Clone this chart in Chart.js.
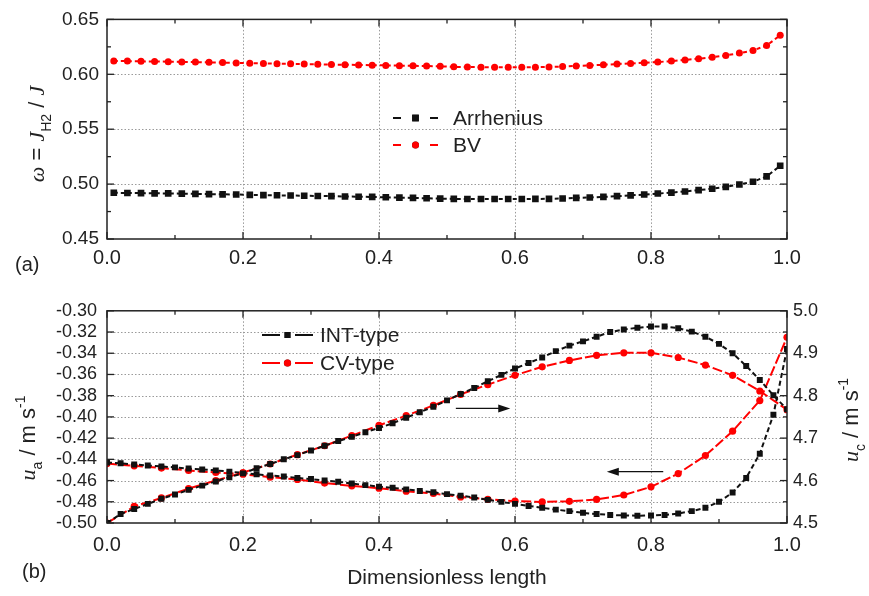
<!DOCTYPE html>
<html>
<head>
<meta charset="utf-8">
<script src="https://cdn.jsdelivr.net/npm/chart.js@4.4.1/dist/chart.umd.min.js"></script>
<style>
  body { margin: 0; background: #fff; width: 869px; height: 596px; position: relative; overflow: hidden;
         font-family: "Liberation Sans", Arial, sans-serif; }
  #top { position: absolute; left: 0; top: 0; width: 869px; height: 290px; }
  #bot { position: absolute; left: 0; top: 290px; width: 869px; height: 306px; }
  .tag { position: absolute; font-size: 20px; color: #222; }
</style>
</head>
<body>
<div id="top"><canvas id="chartA"></canvas></div>
<div id="bot"><canvas id="chartB"></canvas></div>
<div class="tag" style="left:15px;top:253px">(a)</div>
<div class="tag" style="left:22px;top:560px">(b)</div>
<script>
// panel (a): omega vs dimensionless length
const xTop = [0.01, 0.03, 0.05, 0.07, 0.09, 0.11, 0.13, 0.15, 0.17, 0.19,
  0.21, 0.23, 0.25, 0.27, 0.29, 0.31, 0.33, 0.35, 0.37, 0.39,
  0.41, 0.43, 0.45, 0.47, 0.49, 0.51, 0.53, 0.55, 0.57, 0.59,
  0.61, 0.63, 0.65, 0.67, 0.69, 0.71, 0.73, 0.75, 0.77, 0.79,
  0.81, 0.83, 0.85, 0.87, 0.89, 0.91, 0.93, 0.95, 0.97, 0.99];
const arrhenius = [0.4921, 0.4919, 0.4918, 0.4916, 0.4915, 0.4913, 0.4911, 0.4909, 0.4907, 0.4905,
  0.4902, 0.4900, 0.4898, 0.4896, 0.4894, 0.4892, 0.4890, 0.4887, 0.4885, 0.4883,
  0.4880, 0.4877, 0.4874, 0.4871, 0.4868, 0.4865, 0.4864, 0.4864, 0.4864, 0.4864,
  0.4864, 0.4865, 0.4866, 0.4869, 0.4874, 0.4878, 0.4884, 0.4890, 0.4897, 0.4905,
  0.4914, 0.4923, 0.4933, 0.4945, 0.4958, 0.4975, 0.4996, 0.5021, 0.5070, 0.5167];
const bv = [0.6121, 0.6120, 0.6118, 0.6117, 0.6115, 0.6113, 0.6111, 0.6109, 0.6107, 0.6104,
  0.6101, 0.6099, 0.6097, 0.6095, 0.6093, 0.6091, 0.6089, 0.6087, 0.6085, 0.6083,
  0.6081, 0.6079, 0.6077, 0.6075, 0.6073, 0.6068, 0.6066, 0.6065, 0.6064, 0.6064,
  0.6064, 0.6065, 0.6067, 0.6071, 0.6076, 0.6081, 0.6087, 0.6093, 0.6099, 0.6105,
  0.6112, 0.6120, 0.6131, 0.6142, 0.6155, 0.6172, 0.6193, 0.6217, 0.6262, 0.6355];

// panel (b): velocities, INT-type every 0.02, CV-type every 0.04
const xInt = [0, 0.02, 0.04, 0.06, 0.08, 0.10, 0.12, 0.14, 0.16, 0.18,
  0.20, 0.22, 0.24, 0.26, 0.28, 0.30, 0.32, 0.34, 0.36, 0.38,
  0.40, 0.42, 0.44, 0.46, 0.48, 0.50, 0.52, 0.54, 0.56, 0.58,
  0.60, 0.62, 0.64, 0.66, 0.68, 0.70, 0.72, 0.74, 0.76, 0.78,
  0.80, 0.82, 0.84, 0.86, 0.88, 0.90, 0.92, 0.94, 0.96, 0.98, 1.0];
const intUa = [-0.4431, -0.4437, -0.4449, -0.4458, -0.4467, -0.4476, -0.4487, -0.4495, -0.4504, -0.4516,
  -0.4528, -0.4541, -0.4552, -0.4562, -0.4576, -0.4586, -0.4600, -0.4611, -0.4628, -0.4643,
  -0.4657, -0.4668, -0.4683, -0.4698, -0.4711, -0.4728, -0.4742, -0.4760, -0.4782, -0.4801,
  -0.4820, -0.4839, -0.4857, -0.4874, -0.4888, -0.4904, -0.4916, -0.4924, -0.4929, -0.4931,
  -0.4930, -0.4924, -0.4911, -0.4888, -0.4857, -0.4800, -0.4713, -0.4575, -0.4347, -0.3980, -0.3360];
const intUc = [4.500, 4.521, 4.533, 4.545, 4.557, 4.567, 4.578, 4.588, 4.598, 4.608,
  4.617, 4.629, 4.639, 4.650, 4.660, 4.671, 4.682, 4.693, 4.703, 4.714,
  4.724, 4.735, 4.748, 4.761, 4.774, 4.789, 4.804, 4.818, 4.834, 4.849,
  4.864, 4.877, 4.890, 4.905, 4.918, 4.928, 4.939, 4.950, 4.956, 4.960,
  4.963, 4.963, 4.959, 4.951, 4.939, 4.922, 4.900, 4.870, 4.837, 4.801, 4.768];
const xCv = [0, 0.04, 0.08, 0.12, 0.16, 0.20, 0.24, 0.28, 0.32, 0.36, 0.40, 0.44, 0.48,
  0.52, 0.56, 0.60, 0.64, 0.68, 0.72, 0.76, 0.80, 0.84, 0.88, 0.92, 0.96, 1.0];
const cvUa = [-0.4440, -0.4461, -0.4482, -0.4505, -0.4524, -0.4540, -0.4568, -0.4590, -0.4624, -0.4650,
  -0.4672, -0.4700, -0.4722, -0.4755, -0.4777, -0.4794, -0.4801, -0.4796, -0.4778, -0.4736,
  -0.4659, -0.4534, -0.4364, -0.4135, -0.3846, -0.3250];
const cvUc = [4.500, 4.539, 4.559, 4.581, 4.600, 4.619, 4.639, 4.661, 4.682, 4.706,
  4.730, 4.753, 4.777, 4.803, 4.826, 4.848, 4.868, 4.883, 4.895, 4.901,
  4.901, 4.890, 4.872, 4.848, 4.811, 4.767];

const INK = "#222";
const RED = "#ff0000";
const BLK = "#111";
const SANS = '"Liberation Sans", Arial, sans-serif';
const SERIF = '"Liberation Serif", "Times New Roman", serif';

const pts = (xs, ys) => xs.map((x, i) => ({ x: x, y: ys[i] }));

// dotted grid under the data, box with inward ticks on top
const framePlugin = {
  id: "frame",
  beforeDatasetsDraw(chart, args, opts) {
    const ctx = chart.ctx, a = chart.chartArea;
    const xs = chart.scales.x, ys = chart.scales.y;
    ctx.save();
    ctx.strokeStyle = "#9a9a9a";
    ctx.lineWidth = 1;
    ctx.setLineDash([1.5, 2]);
    opts.xMajor.slice(1, -1).forEach(v => {
      const p = Math.round(xs.getPixelForValue(v)) + 0.5;
      ctx.beginPath(); ctx.moveTo(p, a.top); ctx.lineTo(p, a.bottom); ctx.stroke();
    });
    opts.yMajor.slice(1, -1).forEach(v => {
      const p = Math.round(ys.getPixelForValue(v)) + 0.5;
      ctx.beginPath(); ctx.moveTo(a.left, p); ctx.lineTo(a.right, p); ctx.stroke();
    });
    ctx.restore();
  },
  afterDraw(chart, args, opts) {
    const ctx = chart.ctx, a = chart.chartArea;
    const xs = chart.scales.x, ys = chart.scales.y, ys2 = chart.scales[opts.right] || ys;
    ctx.save();
    ctx.strokeStyle = INK;
    ctx.lineWidth = 1.5;
    ctx.strokeRect(a.left, a.top, a.right - a.left, a.bottom - a.top);
    ctx.lineWidth = 1.3;
    const tick = (list, len, fn) => list.forEach(v => fn(v, len));
    const xt = (v, len) => {
      const p = xs.getPixelForValue(v);
      ctx.beginPath();
      ctx.moveTo(p, a.bottom); ctx.lineTo(p, a.bottom - len);
      ctx.moveTo(p, a.top); ctx.lineTo(p, a.top + len);
      ctx.stroke();
    };
    const yl = (v, len) => {
      const p = ys.getPixelForValue(v);
      ctx.beginPath(); ctx.moveTo(a.left, p); ctx.lineTo(a.left + len, p); ctx.stroke();
    };
    const yr = (v, len) => {
      const p = ys2.getPixelForValue(v);
      ctx.beginPath(); ctx.moveTo(a.right, p); ctx.lineTo(a.right - len, p); ctx.stroke();
    };
    tick(opts.xMajor, 7, xt); tick(opts.xMinor, 4, xt);
    tick(opts.yMajor, 7, yl); tick(opts.yMinor || [], 4, yl);
    tick(opts.rMajor || opts.yMajor, 7, yr); tick(opts.rMinor || opts.yMinor || [], 4, yr);
    ctx.restore();
  }
};

// rotated axis titles with italic symbols, sub- and superscripts
function richText(ctx, parts, cx, cy, size) {
  const font = p => {
    const s = (p.s === "sub" || p.s === "sup") ? Math.round(size * 0.62) : size;
    return (p.i ? "italic " : "") + s + "px " + (p.i ? SERIF : SANS);
  };
  ctx.save();
  ctx.translate(cx, cy);
  ctx.rotate(-Math.PI / 2);
  ctx.fillStyle = INK;
  ctx.textBaseline = "alphabetic";
  let w = 0;
  parts.forEach(p => { ctx.font = font(p); w += ctx.measureText(p.t).width; });
  let x = -w / 2;
  const base = size * 0.36;
  parts.forEach(p => {
    ctx.font = font(p);
    const dy = p.s === "sub" ? size * 0.3 : p.s === "sup" ? -size * 0.45 : 0;
    ctx.fillText(p.t, x, base + dy);
    x += ctx.measureText(p.t).width;
  });
  ctx.restore();
}

const titlePlugin = {
  id: "axisTitles",
  afterDraw(chart, args, opts) {
    (opts.items || []).forEach(it => richText(chart.ctx, it.parts, it.x, it.y, it.size));
  }
};

// legend drawn inside the plot: dash - marker - dash, then label
const legendPlugin = {
  id: "inLegend",
  afterDraw(chart, args, opts) {
    const ctx = chart.ctx;
    ctx.save();
    opts.items.forEach((it, k) => {
      const ds = chart.data.datasets[it.ds];
      const y = opts.y + k * opts.gap;
      const x0 = opts.x, x1 = opts.x + opts.w, xm = (x0 + x1) / 2;
      ctx.strokeStyle = ds.borderColor;
      ctx.lineWidth = 2.2;
      ctx.beginPath();
      ctx.moveTo(x0, y); ctx.lineTo(x0 + opts.seg, y);
      ctx.moveTo(x1 - opts.seg, y); ctx.lineTo(x1, y);
      ctx.stroke();
      Chart.helpers.drawPoint(ctx, {
        pointStyle: ds.pointStyle, radius: ds.pointRadius, borderWidth: 0, rotation: 0
      }, xm, y);
      ctx.fillStyle = ds.pointBackgroundColor;
      ctx.fill();
      ctx.fillStyle = INK;
      ctx.font = opts.size + "px " + SANS;
      ctx.textBaseline = "middle";
      ctx.fillText(it.label, x1 + opts.tx, y + 1);
    });
    ctx.restore();
  }
};

// horizontal arrows placed in data units
const arrowPlugin = {
  id: "arrows",
  afterDatasetsDraw(chart, args, opts) {
    const ctx = chart.ctx, xs = chart.scales.x, ys = chart.scales.y;
    ctx.save();
    ctx.strokeStyle = BLK; ctx.fillStyle = BLK; ctx.lineWidth = 1.2;
    (opts.items || []).forEach(a => {
      const p1 = xs.getPixelForValue(a.from), p2 = xs.getPixelForValue(a.to), py = ys.getPixelForValue(a.y);
      const dir = Math.sign(p2 - p1);
      ctx.beginPath(); ctx.moveTo(p1, py); ctx.lineTo(p2 - dir * 8, py); ctx.stroke();
      ctx.beginPath();
      ctx.moveTo(p2, py); ctx.lineTo(p2 - dir * 12, py - 4); ctx.lineTo(p2 - dir * 12, py + 4);
      ctx.closePath(); ctx.fill();
    });
    ctx.restore();
  }
};

const noGrid = { display: false, drawTicks: false };

function series(label, data, color, style, radius, dash, axis) {
  return {
    label: label, data: data, yAxisID: axis || "y",
    borderColor: color, backgroundColor: color,
    pointBackgroundColor: color, pointBorderColor: color, pointBorderWidth: 0,
    pointStyle: style, pointRadius: radius, borderWidth: 2, borderDash: dash,
    tension: 0, fill: false
  };
}

new Chart(document.getElementById("chartA"), {
  type: "line",
  data: {
    datasets: [
      series("Arrhenius", pts(xTop, arrhenius), BLK, "rect", 4.7, [4, 3]),
      series("BV", pts(xTop, bv), RED, "circle", 3.5, [4, 3])
    ]
  },
  options: {
    responsive: true, maintainAspectRatio: false, animation: false,
    layout: { padding: { top: 19, right: 82, left: 0, bottom: 0 } },
    scales: {
      x: {
        type: "linear", min: 0, max: 1,
        ticks: { stepSize: 0.2, padding: 7, color: INK, font: { size: 20, family: SANS },
                 callback: v => v.toFixed(1), maxRotation: 0, autoSkip: false },
        grid: noGrid, border: { display: false },
        afterFit: s => { s.height = 51; }
      },
      y: {
        min: 0.45, max: 0.65,
        ticks: { stepSize: 0.05, padding: 8, color: INK, font: { size: 19, family: SANS },
                 callback: v => v.toFixed(2), autoSkip: false },
        grid: noGrid, border: { display: false },
        afterFit: s => { s.width = 107; }
      }
    },
    plugins: {
      legend: { display: false },
      tooltip: { enabled: false },
      frame: {
        xMajor: [0, 0.2, 0.4, 0.6, 0.8, 1], xMinor: [0.1, 0.3, 0.5, 0.7, 0.9],
        yMajor: [0.45, 0.5, 0.55, 0.6, 0.65], yMinor: [0.475, 0.525, 0.575, 0.625]
      },
      inLegend: {
        x: 393, w: 45, seg: 8, y: 118, gap: 27, tx: 15, size: 21,
        items: [{ ds: 0, label: "Arrhenius" }, { ds: 1, label: "BV" }]
      },
      axisTitles: {
        items: [{
          x: 36, y: 134, size: 22,
          parts: [{ t: "ω", i: true }, { t: " = " }, { t: "J", i: true }, { t: "H2", s: "sub" },
                  { t: " / " }, { t: "J", i: true }]
        }]
      }
    }
  },
  plugins: [framePlugin, legendPlugin, titlePlugin]
});

new Chart(document.getElementById("chartB"), {
  type: "line",
  data: {
    datasets: [
      series("INT-type", pts(xInt, intUc), BLK, "rect", 4.2, [5, 3], "y2"),
      series("CV-type", pts(xCv, cvUc), RED, "circle", 3.6, [10, 3], "y2"),
      series("INT-type u_a", pts(xInt, intUa), BLK, "rect", 4.2, [5, 3], "y"),
      series("CV-type u_a", pts(xCv, cvUa), RED, "circle", 3.6, [10, 3], "y")
    ]
  },
  options: {
    responsive: true, maintainAspectRatio: false, animation: false,
    layout: { padding: { top: 14, right: 0, left: 0, bottom: 0 } },
    scales: {
      x: {
        type: "linear", min: 0, max: 1,
        ticks: { stepSize: 0.2, padding: 10, color: INK, font: { size: 20, family: SANS },
                 callback: v => v.toFixed(1), maxRotation: 0, autoSkip: false },
        grid: noGrid, border: { display: false },
        title: { display: true, text: "Dimensionless length", color: INK,
                 font: { size: 21, family: SANS }, padding: { top: 0, bottom: 5 } },
        afterFit: s => { s.height = 73; }
      },
      y: {
        position: "left", min: -0.5, max: -0.3,
        ticks: { stepSize: 0.02, padding: 10, color: INK, font: { size: 18, family: SANS },
                 callback: v => v.toFixed(2), autoSkip: false },
        grid: noGrid, border: { display: false },
        afterFit: s => { s.width = 107; }
      },
      y2: {
        position: "right", min: 4.5, max: 5.0,
        ticks: { stepSize: 0.1, padding: 6, color: INK, font: { size: 18, family: SANS },
                 callback: v => v.toFixed(1), autoSkip: false },
        grid: noGrid, border: { display: false },
        afterFit: s => { s.width = 82; }
      }
    },
    plugins: {
      legend: { display: false },
      tooltip: { enabled: false },
      frame: {
        right: "y2",
        xMajor: [0, 0.2, 0.4, 0.6, 0.8, 1], xMinor: [0.1, 0.3, 0.5, 0.7, 0.9],
        yMajor: [-0.5, -0.48, -0.46, -0.44, -0.42, -0.4, -0.38, -0.36, -0.34, -0.32, -0.3],
        rMajor: [4.5, 4.6, 4.7, 4.8, 4.9, 5.0], rMinor: [4.55, 4.65, 4.75, 4.85, 4.95]
      },
      inLegend: {
        x: 262, w: 51, seg: 18, y: 45, gap: 28, tx: 7, size: 21,
        items: [{ ds: 0, label: "INT-type" }, { ds: 1, label: "CV-type" }]
      },
      arrows: {
        items: [{ from: 0.513, to: 0.593, y: -0.392 }, { from: 0.818, to: 0.735, y: -0.4516 }]
      },
      axisTitles: {
        items: [
          { x: 27, y: 148, size: 22,
            parts: [{ t: "u", i: true }, { t: "a", s: "sub" }, { t: " / m s" }, { t: "-1", s: "sup" }] },
          { x: 850, y: 130, size: 22,
            parts: [{ t: "u", i: true }, { t: "c", s: "sub" }, { t: " / m s" }, { t: "-1", s: "sup" }] }
        ]
      }
    }
  },
  plugins: [framePlugin, legendPlugin, titlePlugin, arrowPlugin]
});
</script>
</body>
</html>
